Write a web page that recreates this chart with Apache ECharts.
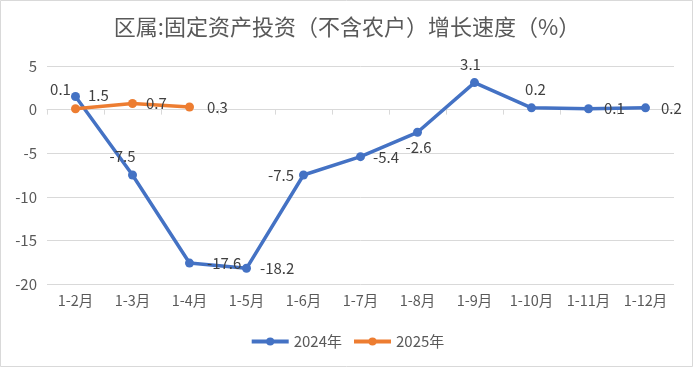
<!DOCTYPE html>
<html><head><meta charset="utf-8">
<script src="https://cdn.jsdelivr.net/npm/echarts@6/dist/echarts.min.js"></script>
<style>html,body{margin:0;padding:0;background:#fff}#c{width:694px;height:368px}</style>
</head><body><div id="c"></div>
<script>
const titleText = '区属:固定资产投资（不含农户）增长速度（%）';
const categories = ['1-2月','1-3月','1-4月','1-5月','1-6月','1-7月','1-8月','1-9月','1-10月','1-11月','1-12月'];
const s2024Name = '2024年';
const s2024 = [1.5, -7.5, -17.6, -18.2, -7.5, -5.4, -2.6, 3.1, 0.2, 0.1, 0.2];
const s2025Name = '2025年';
const s2025 = [0.1, 0.7, 0.3];
const yTicks = {min: -20, max: 5, interval: 5};

const FONT = '"Noto Sans CJK SC", "Noto Sans", sans-serif';
const labelBase = {show: true, color: '#404040', fontSize: 15, fontFamily: FONT};
// per-point label placement (style only)
const pos2024 = [
  {position:'right', offset:[3,-1]},
  {position:'top', offset:[-10,-2]},
  {position:'right', offset:[8,0]},
  {position:'right', offset:[4,0]},
  {position:'left', offset:[0,0]},
  {position:'right', offset:[3,1]},
  {position:'bottom', offset:[1,-2]},
  {position:'top', offset:[-4,-1]},
  {position:'top', offset:[4,-2]},
  {position:'right', offset:[6,0]},
  {position:'right', offset:[6,0]}
];
const pos2025 = [
  {position:'top', offset:[-15,-2]},
  {position:'right', offset:[4,0]},
  {position:'right', offset:[8,0]}
];
const chart = echarts.init(document.getElementById('c'), null, {renderer:'canvas'});
chart.setOption({
  animation: false,
  backgroundColor: '#fff',
  title: {text: titleText, left: 'center', top: 11,
    textStyle: {fontSize: 22, fontWeight: 'normal', color: '#595959', fontFamily: FONT}},
  legend: {bottom: 14, left: 'center', itemWidth: 37, itemHeight: 10, itemGap: 10,
    lineStyle: {width: 4},
    textStyle: {fontSize: 15, color: '#595959', fontFamily: FONT},
    data: [s2024Name, s2025Name]},
  grid: {left: 47, right: 20, top: 66, bottom: 84},
  xAxis: [{
    type: 'category', data: categories, position: 'bottom',
    axisLine: {show: false, onZero: false}, axisTick: {show: false},
    axisLabel: {color: '#595959', fontSize: 14.5, fontFamily: FONT, margin: 9, interval: 0, hideOverlap: false}
  }, {
    type: 'category', data: categories, position: 'bottom',
    axisLine: {show: true, onZero: true, lineStyle: {color: '#d9d9d9'}},
    axisTick: {show: true, length: 5, interval: 0, lineStyle: {color: '#d9d9d9'}},
    axisLabel: {show: false}
  }],
  yAxis: {type: 'value', min: yTicks.min, max: yTicks.max, interval: yTicks.interval,
    axisLine: {show: false}, axisTick: {show: false},
    axisLabel: {color: '#595959', fontSize: 15, fontFamily: FONT, margin: 10},
    splitLine: {lineStyle: {color: '#d9d9d9'}}},
  series: [{
    name: s2024Name, type: 'line', xAxisIndex: 0,
    data: s2024.map((v,i)=>({value: v, label: Object.assign({}, labelBase, pos2024[i])})),
    color: '#4472C4', lineStyle: {width: 3.5}, symbol: 'circle', symbolSize: 9,
    label: labelBase
  }, {
    name: s2025Name, type: 'line', xAxisIndex: 0,
    data: s2025.map((v,i)=>({value: v, label: Object.assign({}, labelBase, pos2025[i])})),
    color: '#ED7D31', lineStyle: {width: 3.5}, symbol: 'circle', symbolSize: 9,
    label: labelBase
  }],
  graphic: [{type: 'rect', shape: {x: 0.5, y: 0.5, width: 692, height: 366},
    style: {fill: 'none', stroke: '#d9d9d9', lineWidth: 1}, silent: true}]
});
</script></body></html>
